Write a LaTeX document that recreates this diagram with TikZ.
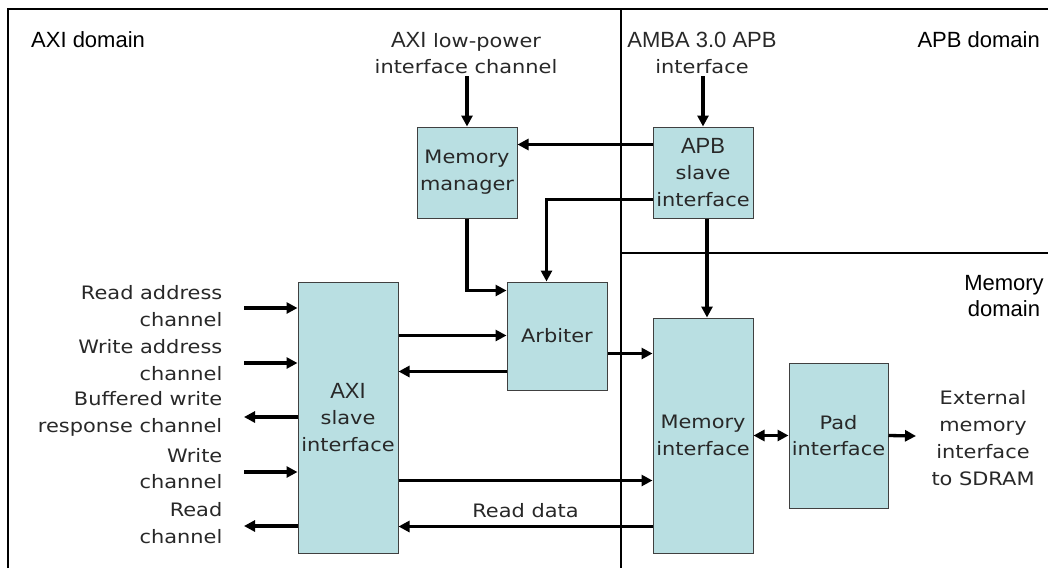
\documentclass[tikz,border=0pt]{standalone}
\usepackage{fontspec}
\setmainfont{DejaVu Sans}[FakeStretch=1.13]
\newfontfamily\arialf{Liberation Sans}
\usetikzlibrary{arrows.meta,calc}
\definecolor{boxfill}{RGB}{185,223,226}
\definecolor{txt}{RGB}{40,40,40}
\newcommand{\regf}{\fontsize{18.5}{26.8}\selectfont}
\newcommand{\hf}{\arialf\fontsize{22}{26.8}\selectfont}
\tikzset{
  blk/.style={draw=black!75, line width=1pt, fill=boxfill, inner sep=0pt,
    minimum width=100pt, align=center, font=\regf, text=txt},
  lbl/.style={inner sep=0pt, align=center, font=\regf, text=txt},
  dom/.style={inner sep=0pt, align=center, font=\hf, text=black},
  arr/.style={line width=3.3pt, -{Triangle[length=11pt,width=11pt]}},
  darr/.style={line width=3.3pt, {Triangle[length=11pt,width=11pt]}-{Triangle[length=11pt,width=11pt]}},
  frame/.style={line width=1.2pt, draw=black}
}
\begin{document}
\begin{tikzpicture}[x=1pt,y=-1pt]
\useasboundingbox (0,0) rectangle (1048,568);
% frame and dividers
\draw[frame] (8,568) -- (8,9) -- (1048,9);
\draw[frame] (621,9) -- (621,568);
\draw[frame] (621,253) -- (1048,253);

% domain labels
\node[dom, anchor=west] (axidom) at (31,40) {AXI domain};
\node[dom, anchor=east] (apbdom) at (1040,40) {APB domain};
\node[dom] (memdom) at (1004,296) {Memory\\domain};

% top labels
\node[lbl] (lpl) at (466,53) {{\hf AXI} low-power\\interface channel};
\node[lbl] (ambal) at (702,53) {{\hf AMBA 3.0 APB}\\interface};

% blocks
\node[blk, minimum height=91pt] (mm) at (467,172.5) {Memory\\manager};
\node[blk, minimum height=91pt] (apb) at (703,172.5) {{\hf APB}\\slave\\interface};
\node[blk, minimum height=108pt] (arb) at (557,336) {Arbiter};
\node[blk, minimum height=271pt] (axi) at (348,417.5) {{\hf AXI}\\slave\\interface};
\node[blk, minimum height=235pt] (mi) at (703,435.5) {Memory\\interface};
\node[blk, minimum height=145pt, minimum width=99pt] (pad) at (838.5,435.5) {Pad\\interface};

% left labels
\node[lbl, anchor=east, align=right] (l1) at (222.5,306) {Read address\\channel};
\node[lbl, anchor=east, align=right] (l2) at (222.5,360) {Write address\\channel};
\node[lbl, anchor=east, align=right] (l3) at (222.5,414) {Buffered write\\response channel};
\node[lbl, anchor=east, align=right] (l4) at (222.5,468.5) {Write\\channel};
\node[lbl, anchor=east, align=right] (l5) at (222.5,523) {Read\\channel};

\coordinate (c1) at (244,308);
\coordinate (c2) at (244,363);
\coordinate (c3) at (244,417);
\coordinate (c4) at (244,472);
\coordinate (c5) at (244,526);

% right label
\node[lbl] (ext) at (983,438) {External\\memory\\interface\\to SDRAM};
\coordinate (extc) at (916,436);

% connectors: top inputs
\draw[arr] (mm.north |- lpl.south) ++(0,2) -- (mm.north);
\draw[arr] (apb.north |- ambal.south) ++(0,2) -- (apb.north);
% APB -> memory manager
\draw[arr] ($(apb.north west)+(0,18)$) -- ($(mm.north east)+(0,18)$);
% APB -> arbiter
\draw[arr] ($(apb.north west)+(0,73)$) -| ($(arb.north west)+(40,0)$);
% memory manager -> arbiter
\draw[arr] (mm.south) |- ($(arb.north west)+(0,9)$);
% APB -> memory interface
\draw[arr] ($(apb.south)+(4,0)$) -- ($(mi.north)+(4,0)$);
% AXI <-> arbiter
\draw[arr] ($(axi.north east)+(0,54)$) -- ($(arb.north west)+(0,54)$);
\draw[arr] ($(arb.north west)+(0,90)$) -- ($(axi.north east)+(0,90)$);
% arbiter -> memory interface
\draw[arr] ($(arb.north east)+(0,72)$) -- ($(mi.north west)+(0,36)$);
% AXI -> memory interface
\draw[arr] ($(axi.north east)+(0,199)$) -- ($(mi.north west)+(0,163)$);
% memory interface -> AXI (read data)
\draw[arr] ($(mi.north west)+(0,209)$) -- node[lbl, above=7pt, pos=0.5] (rd) {Read data} ($(axi.north east)+(0,245)$);
% memory interface <-> pad
\draw[darr] (mi.east |- pad.west) -- (pad.west);
% pad -> external
\draw[arr] (pad.east) -- (extc);

% left channels
\draw[arr] (c1) -- (axi.west |- c1);
\draw[arr] (c2) -- (axi.west |- c2);
\draw[arr] (axi.west |- c3) -- (c3);
\draw[arr] (c4) -- (axi.west |- c4);
\draw[arr] (axi.west |- c5) -- (c5);
\end{tikzpicture}
\end{document}
